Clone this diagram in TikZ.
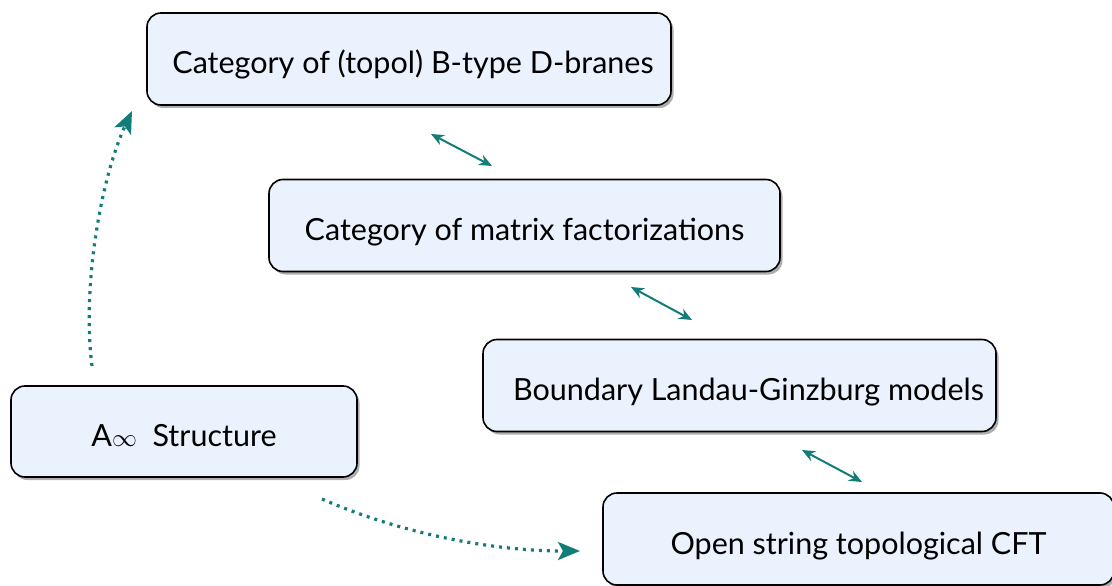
\documentclass[tikz,border=0pt]{standalone}
\usepackage{fontspec}
\setmainfont{Lato}
\usetikzlibrary{shadows,arrows.meta}
\definecolor{boxfill}{HTML}{EAF2FD}
\definecolor{teal2}{HTML}{127D78}
\tikzset{
  box/.style={draw=black, line width=1.6pt, fill=boxfill, rounded corners=14pt,
    minimum height=92pt, inner sep=0pt, text height=30pt, text depth=0pt,
    font=\fontsize{30.5}{36}\selectfont,
    drop shadow={shadow xshift=2.5pt, shadow yshift=-3pt, opacity=0.45, fill=black!70}},
  biarrow/.style={draw=teal2, line width=2pt, {Stealth[length=13pt,width=11pt]}-{Stealth[length=13pt,width=11pt]}},
  dotarrow/.style={draw=teal2, line width=3.2pt, dash pattern=on 3pt off 5pt,
    -{Stealth[length=22pt,width=18pt,inset=5pt]}}
}
\begin{document}
\begin{tikzpicture}[x=1pt,y=-1pt]
\useasboundingbox (0,0) rectangle (1112,586);
\begin{scope}
\clip (0,0) rectangle (1112,586);
\node[box, minimum width=524pt] (b1) at (409,59) {\hspace{8pt}Category of (topol) B-type D-branes};
\node[box, minimum width=511pt] (b2) at (524.5,225.5) {Category of matrix factorizations};
\node[box, minimum width=513pt] (b3) at (739.5,385.5) {\hspace{18pt}Boundary Landau-Ginzburg models};
\node[box, minimum width=511pt] (b4) at (858.5,539) {Open string topological CFT};
\node[box, minimum width=346pt, minimum height=91pt] (a) at (184,431.5) {A{\fontsize{24}{24}\selectfont$\infty$}\ \ Structure};
\end{scope}
\coordinate (p1) at (431,134);
\coordinate (q1) at (492,166);
\coordinate (p2) at (631,287);
\coordinate (q2) at (692,320);
\coordinate (p3) at (802,450);
\coordinate (q3) at (862,482);
\draw[biarrow] (p1) -- (q1);
\draw[biarrow] (p2) -- (q2);
\draw[biarrow] (p3) -- (q3);
\coordinate (s1) at (92,366);
\coordinate (e1) at (132,111);
\coordinate (s2) at (322,499);
\coordinate (e2) at (580,551);
\draw[dotarrow] (s1) .. controls (82,290) and (100,180) .. (e1);
\draw[dotarrow] (s2) .. controls (400,533) and (490,551) .. (e2);
\end{tikzpicture}
\end{document}
